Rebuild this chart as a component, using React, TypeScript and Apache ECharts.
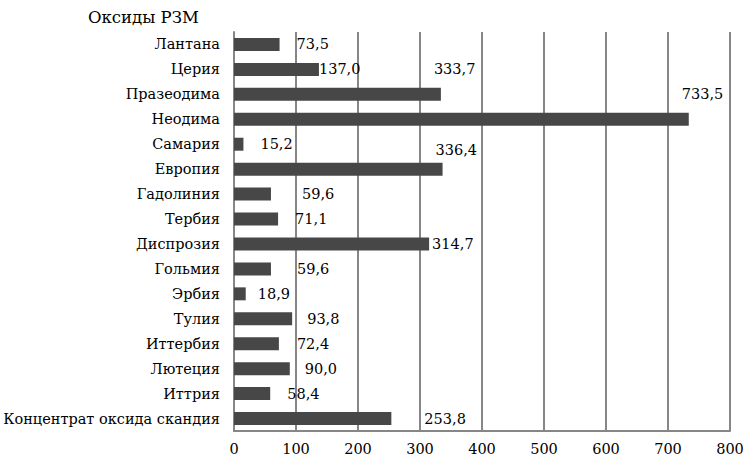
import React, { useEffect, useRef } from "react";
import * as echarts from "echarts";

const categories = [
  "Лантана",
  "Церия",
  "Празеодима",
  "Неодима",
  "Самария",
  "Европия",
  "Гадолиния",
  "Тербия",
  "Диспрозия",
  "Гольмия",
  "Эрбия",
  "Тулия",
  "Иттербия",
  "Лютеция",
  "Иттрия",
  "Концентрат оксида скандия",
];
const values = [73.5, 137.0, 333.7, 733.5, 15.2, 336.4, 59.6, 71.1, 314.7, 59.6, 18.9, 93.8, 72.4, 90.0, 58.4, 253.8];
const axisTitle = "Оксиды РЗМ";
const xTicks = { min: 0, max: 800, interval: 100 };

// label placement offsets (px) as in the reference picture
const labelOffsets: [number, number][] = [
  [17, 0], [0, 0], [-7, -25], [-7, -25], [17, 0], [-7, -19], [31, 0], [17, 0],
  [3, 0], [26, 0], [12, 0], [15, 0], [18, 0], [15, 0], [17, 0], [33, 0],
];

const FONT = "DejaVu Serif";
const FS = 14.5;

export default function App() {
  const ref = useRef<HTMLDivElement>(null);
  useEffect(() => {
    if (!ref.current) return;
    const chart = echarts.init(ref.current, undefined, { renderer: "svg" });
    chart.setOption({
      animation: false,
      backgroundColor: "#ffffff",
      textStyle: { fontFamily: FONT },
      title: {
        text: axisTitle,
        left: 88,
        top: 9,
        padding: 0,
        textStyle: { fontFamily: FONT, fontSize: 16.5, fontWeight: "normal", color: "#000" },
      },
      grid: { left: 234, right: 13, top: 32, bottom: 27, containLabel: false, outerBoundsMode: "none" },
      xAxis: {
        type: "value",
        min: xTicks.min,
        max: xTicks.max,
        interval: xTicks.interval,
        axisLine: { show: true, lineStyle: { color: "#868686", width: 2 } },
        axisTick: { show: false },
        axisLabel: { fontFamily: FONT, fontSize: FS, color: "#000", margin: 10 },
        splitLine: { show: true, lineStyle: { color: "#868686", width: 2 } },
      },
      yAxis: {
        type: "category",
        data: categories,
        inverse: true,
        axisLine: { show: true, lineStyle: { color: "#868686", width: 2 } },
        axisTick: { show: false },
        axisLabel: { fontFamily: FONT, fontSize: FS, color: "#000", margin: 14 },
      },
      series: [
        {
          type: "bar",
          barCategoryGap: "48%",
          itemStyle: { color: "#474747" },
          data: values.map((v, i) => ({
            value: v,
            label: {
              show: true,
              position: "right",
              distance: 0,
              offset: labelOffsets[i],
              fontFamily: FONT,
              fontSize: FS,
              color: "#000",
              formatter: () => v.toFixed(1).replace(".", ","),
            },
          })),
        },
      ],
    });
    return () => chart.dispose();
  }, []);
  return <div ref={ref} style={{ width: 743, height: 458, position: "absolute", left: 0, top: 0 }} />;
}
